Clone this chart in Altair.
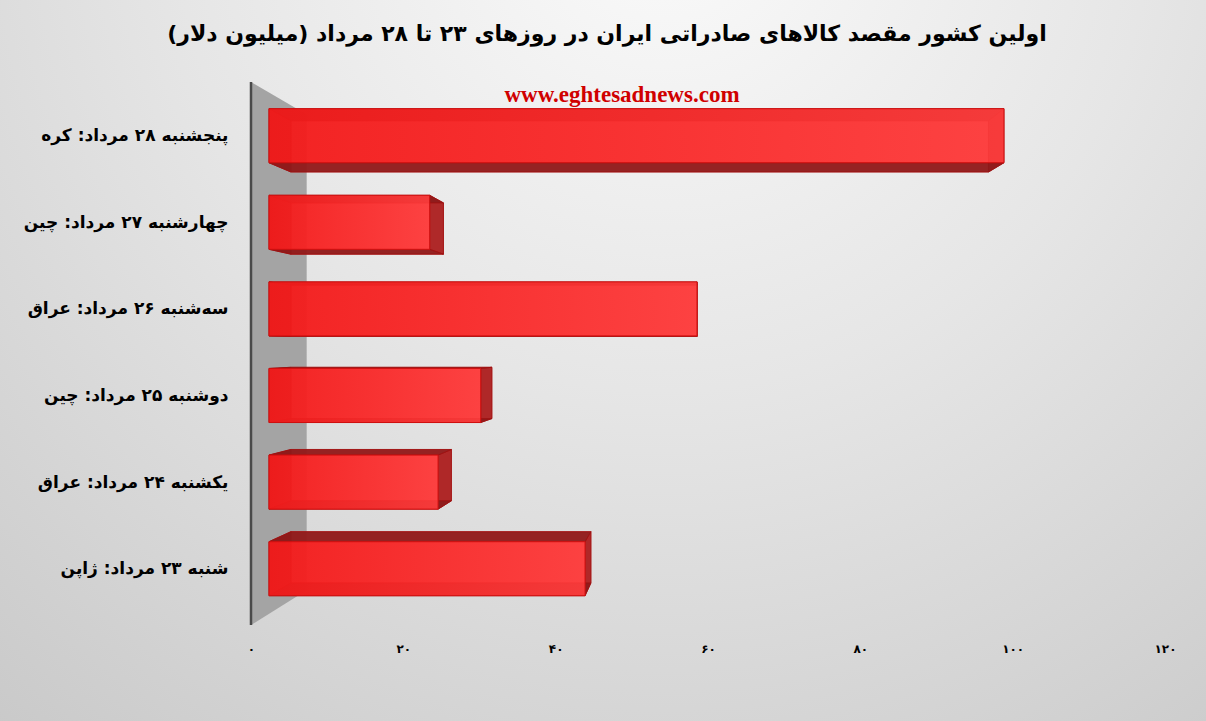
import json

import altair as alt
import pandas as pd

# ---- chart content -------------------------------------------------------
title_text = "اولین کشور مقصد کالاهای صادراتی ایران در روزهای ۲۳ تا ۲۸ مرداد (میلیون دلار)"
site_text = "www.eghtesadnews.com"

days = [
    "پنجشنبه ۲۸ مرداد: کره",
    "چهارشنبه ۲۷ مرداد: چین",
    "سه‌شنبه ۲۶ مرداد: عراق",
    "دوشنبه ۲۵ مرداد: چین",
    "یکشنبه ۲۴ مرداد: عراق",
    "شنبه ۲۳ مرداد:  ژاپن",
]
exports = [96.5, 21.1, 56.2, 27.8, 22.2, 41.5]  # million USD

tick_values = [0, 20, 40, 60, 80, 100, 120]
tick_labels = ["۰", "۲۰", "۴۰", "۶۰", "۸۰", "۱۰۰", "۱۲۰"]

# ---- layout / 3-D look ---------------------------------------------------
W, H = 914, 543
PAD = {"left": 251, "top": 82, "right": 41, "bottom": 96}
X_DOMAIN = [0, 120]
Y_DOMAIN = [-0.62, 5.65]          # row index, first row on top
BAR_HALF = 0.312                   # half bar thickness in row units
BAR_START = 2.36                   # gap between back wall and bar fronts
VP_X, VP_Y = 58.95, 2.417          # vanishing point of the perspective
K_BAR, K_WALL = 0.949, 0.876       # depth factors (back plane / front plane)


def persp(x, y, k):
    return VP_X + (x - VP_X) * k, VP_Y + (y - VP_Y) * k


def polygon(pid, kind, pts):
    pts = list(pts) + [pts[0]]
    return [{"poly": pid, "kind": kind, "ord": n, "x": px, "y": py}
            for n, (px, py) in enumerate(pts)]


rows = []
for i, v in enumerate(exports):
    x0, x1 = BAR_START, BAR_START + v
    yt, yb = i - BAR_HALF, i + BAR_HALF
    f_tl, f_tr, f_br, f_bl = (x0, yt), (x1, yt), (x1, yb), (x0, yb)
    b_tl, b_tr, b_br, b_bl = (persp(*p, K_BAR) for p in (f_tl, f_tr, f_br, f_bl))
    rows += polygon(f"{i}b", "back", [b_tl, b_tr, b_br, b_bl])
    rows += polygon(f"{i}t", "cap", [f_tl, f_tr, b_tr, b_tl])
    rows += polygon(f"{i}u", "cap", [f_bl, f_br, b_br, b_bl])
    rows += polygon(f"{i}l", "side", [f_tl, b_tl, b_bl, f_bl])
    rows += polygon(f"{i}r", "side", [f_tr, b_tr, b_br, f_br])
    rows += polygon(f"{i}f", "front", [f_tl, f_tr, f_br, f_bl])
boxes = pd.DataFrame(rows)

w_top, w_bot = Y_DOMAIN
wall = pd.DataFrame(polygon("wall", "wall", [
    (0, w_top), persp(0, w_top, K_WALL), persp(0, w_bot, K_WALL), (0, w_bot)]))

# ---- scales / axes -------------------------------------------------------
label_font = "DejaVu Sans"
x_axis = alt.Axis(
    values=tick_values,
    labelExpr=f"{json.dumps(tick_labels, ensure_ascii=False)}"
              f"[indexof({json.dumps(tick_values)}, datum.value)]",
    title=None, grid=False, ticks=False, domain=False, labelFlush=False,
    labelFont=label_font, labelFontSize=12, labelFontWeight="bold",
    labelColor="#000000", labelPadding=18, zindex=2,
)
y_axis = alt.Axis(
    values=list(range(len(days))),
    labelExpr=f"{json.dumps(days, ensure_ascii=False)}[datum.value]",
    title=None, grid=False, ticks=False, domain=False, labelOverlap=False,
    labelFont=label_font, labelFontSize=17, labelFontWeight="bold",
    labelColor="#000000", labelPadding=23, labelLimit=400, zindex=2,
)
X = alt.X("x:Q", scale=alt.Scale(domain=X_DOMAIN, nice=False, zero=False), axis=x_axis)
Y = alt.Y("y:Q", scale=alt.Scale(domain=Y_DOMAIN, nice=False, zero=False, reverse=True),
          axis=y_axis)

one = pd.DataFrame({"k": [0]})

# page background: soft radial light spot near the top centre
background = alt.Chart(one).mark_rect(
    fill=alt.RadialGradient(
        gradient="radial", x1=0.55, y1=0.12, x2=0.55, y2=0.12, r1=0, r2=0.9,
        stops=[alt.GradientStop(color="#fbfbfb", offset=0),
               alt.GradientStop(color="#e6e6e6", offset=0.45),
               alt.GradientStop(color="#c8c8c8", offset=1)],
    )
).encode(
    x=alt.value(-PAD["left"]), x2=alt.value(W + PAD["right"]),
    y=alt.value(-PAD["top"]), y2=alt.value(H + PAD["bottom"]),
)

title = alt.Chart(one).mark_text(
    text=title_text, font=label_font, fontSize=22, fontWeight="bold",
    color="#000000", align="center", baseline="middle",
).encode(x=alt.value(356), y=alt.value(-48))

wall_layer = alt.Chart(wall).mark_line(
    fill="#a4a4a4", strokeOpacity=0, interpolate="linear"
).encode(x=X, y=Y, order="ord:Q", detail="poly:N")

wall_edge = alt.Chart(one).mark_rule(color="#4a4a4a", strokeWidth=2.5).encode(
    x=alt.datum(0)
)


def face_layer(kind, **style):
    return alt.Chart(boxes).transform_filter(
        alt.datum.kind == kind
    ).mark_line(interpolate="linear", **style).encode(
        x=X, y=Y, order="ord:Q", detail="poly:N"
    )


back_faces = face_layer("back", fill="#e81a1a", fillOpacity=0.55,
                        stroke="#b80e0e", strokeWidth=0.8, strokeOpacity=0.6)
cap_faces = face_layer("cap", fill="#8c1a1a", fillOpacity=0.9,
                       stroke="#a01010", strokeWidth=0.8)
side_faces = face_layer("side", fill="#a82020", fillOpacity=0.9,
                        stroke="#a01010", strokeWidth=0.8)
front_faces = face_layer(
    "front",
    fill=alt.LinearGradient(
        gradient="linear", x1=0, y1=0, x2=1, y2=0,
        stops=[alt.GradientStop(color="#f41a1a", offset=0),
               alt.GradientStop(color="#ff3c3c", offset=1)],
    ),
    fillOpacity=0.9, stroke="#d01010", strokeWidth=1,
)

watermark = alt.Chart(one).mark_text(
    text=site_text, font="Liberation Serif", fontSize=23, fontWeight="bold",
    color="#d00000", align="center", baseline="middle",
).encode(x=alt.value(371), y=alt.value(13))

chart = alt.layer(
    background, title, wall_layer, wall_edge, back_faces, side_faces, cap_faces,
    front_faces, watermark,
).properties(
    width=W, height=H,
    padding=PAD,
    autosize=alt.AutoSizeParams(type="none"),
).configure_view(stroke=None).configure(background="#d6d6d6")

chart.save("out.html", embed_options={"renderer": "svg", "actions": False})
